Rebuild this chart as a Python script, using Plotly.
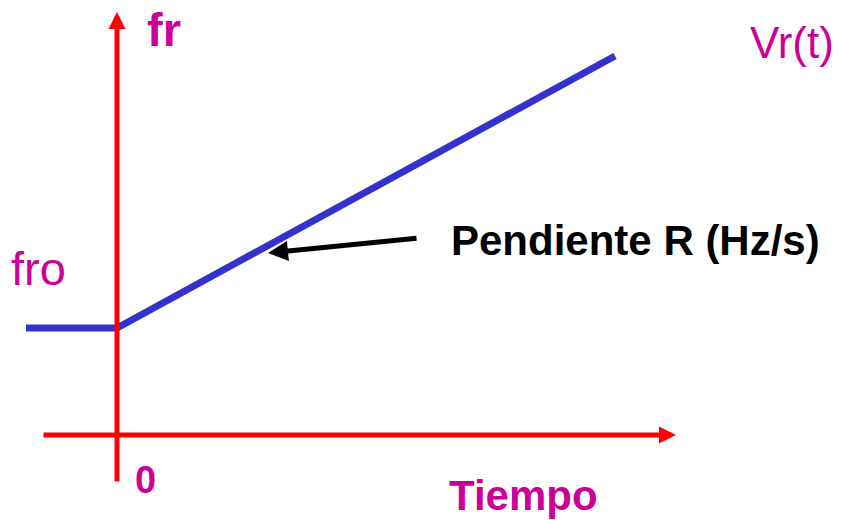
import plotly.graph_objects as go

# tiempo / frecuencia (unidades arbitrarias, origen en el cruce de ejes)
tiempo = [-0.91, 0.0, 4.98]
frecuencia = [1.07, 1.07, 3.79]

# ejes: extremos de las flechas rojas
eje_t = [-0.75, 5.59]
eje_f = [-0.48, 4.23]

# flecha "Pendiente R": cola -> punta
pend_cola = (3.01, 1.97)
pend_punta = (1.51, 1.82)

rojo = "#ff0000"
azul = "#3333cc"
magenta = "#cc0099"

fig = go.Figure()

fig.add_trace(go.Scatter(x=tiempo, y=frecuencia, mode="lines",
                         line=dict(color=azul, width=7), hoverinfo="skip"))

# ejes con flecha
fig.add_annotation(x=eje_t[1], y=0, ax=eje_t[0], ay=0, xref="x", yref="y",
                   axref="x", ayref="y", text="", showarrow=True,
                   arrowhead=2, arrowwidth=5, arrowsize=0.68, arrowcolor=rojo)
fig.add_annotation(x=0, y=eje_f[1], ax=0, ay=eje_f[0], xref="x", yref="y",
                   axref="x", ayref="y", text="", showarrow=True,
                   arrowhead=2, arrowwidth=5, arrowsize=0.68, arrowcolor=rojo)

# flecha negra
fig.add_annotation(x=pend_punta[0], y=pend_punta[1], ax=pend_cola[0], ay=pend_cola[1],
                   xref="x", yref="y", axref="x", ayref="y", text="", showarrow=True,
                   arrowhead=2, arrowwidth=5, arrowsize=0.8, arrowcolor="black")

fuente = "Liberation Sans, Arial, sans-serif"
etiquetas = [
    ("<b>fr</b>", 0.47, 4.06, magenta, 47),
    ("Vr(t)", 6.75, 3.93, magenta, 44),
    ("fro", -0.79, 1.67, magenta, 47),
    ("<b>0</b>", 0.28, -0.45, magenta, 38),
    ("<b>Tiempo</b>", 4.06, -0.60, magenta, 42),
    ("<b>Pendiente R (Hz/s)</b>", 5.18, 1.95, "black", 42),
]
for txt, x, y, col, sz in etiquetas:
    fig.add_annotation(x=x, y=y, xref="x", yref="y", text=txt, showarrow=False,
                       font=dict(color=col, size=sz, family=fuente))

# la página añade 8 px de margen, se compensa desplazando los rangos
fig.update_layout(
    width=843, height=520,
    margin=dict(l=0, r=0, t=0, b=0),
    plot_bgcolor="white", paper_bgcolor="white",
    showlegend=False,
    xaxis=dict(range=[-1.09, 7.34], visible=False, fixedrange=True),
    yaxis=dict(range=[-0.93, 4.27], visible=False, fixedrange=True),
)

fig.write_html("out.html")
